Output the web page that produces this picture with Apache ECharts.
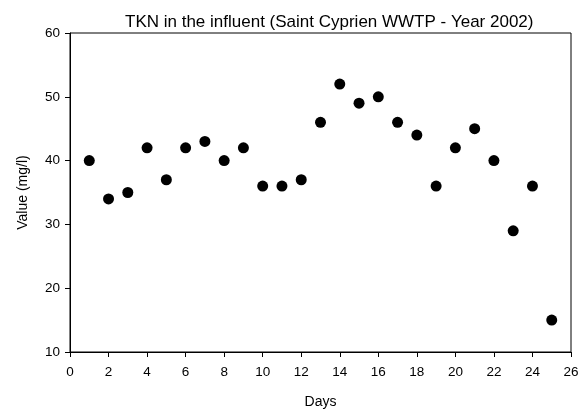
<!DOCTYPE html>
<html>
<head>
<meta charset="utf-8">
<script src="https://cdn.jsdelivr.net/npm/echarts@6/dist/echarts.min.js"></script>
<style>
  html, body { margin: 0; padding: 0; background: #fff; }
  #chart { width: 584px; height: 414px; }
</style>
</head>
<body>
<div id="chart"></div>
<script>
const days = [1, 2, 3, 4, 5, 6, 7, 8, 9, 10, 11, 12, 13, 14, 15, 16, 17, 18, 19, 20, 21, 22, 23, 24, 25]
const tkn = [40, 34, 35, 42, 37, 42, 43, 40, 42, 36, 36, 37, 46, 52, 49, 50, 46, 44, 36, 42, 45, 40, 29, 36, 15]

const font = 'Liberation Sans, Arial, sans-serif'
const chart = echarts.init(document.getElementById('chart'))

const axisCommon = {
  axisLine: { show: true, onZero: false, lineStyle: { color: '#000', width: 1 } },
  axisTick: { show: true, inside: false, length: 5, lineStyle: { color: '#000' } },
  axisLabel: { color: '#000', fontFamily: font, fontSize: 13.5 },
  splitLine: { show: false },
  nameTextStyle: { color: '#000', fontFamily: font, fontSize: 14 }
}

chart.setOption({
  animation: false,
  backgroundColor: '#fff',
  title: {
    text: 'TKN in the influent (Saint Cyprien WWTP - Year 2002)',
    left: 120,
    top: 9,
    textStyle: { color: '#000', fontFamily: font, fontSize: 17, fontWeight: 'normal' }
  },
  grid: { left: 70, right: 13, top: 33, bottom: 62, show: true, borderColor: '#000', borderWidth: 1 },
  xAxis: Object.assign({}, axisCommon, {
    type: 'value',
    min: 0,
    max: 26,
    interval: 2,
    name: 'Days',
    nameLocation: 'middle',
    nameGap: 43,
    axisLabel: Object.assign({}, axisCommon.axisLabel, { margin: 13 })
  }),
  yAxis: Object.assign({}, axisCommon, {
    type: 'value',
    min: 10,
    max: 60,
    interval: 10,
    name: 'Value (mg/l)',
    nameLocation: 'middle',
    nameGap: 40,
    axisLabel: Object.assign({}, axisCommon.axisLabel, { margin: 10 })
  }),
  series: [{
    type: 'scatter',
    data: days.map((d, i) => [d, tkn[i]]),
    symbol: 'circle',
    symbolSize: 11,
    itemStyle: { color: '#000', opacity: 1 }
  }]
})
</script>
</body>
</html>
